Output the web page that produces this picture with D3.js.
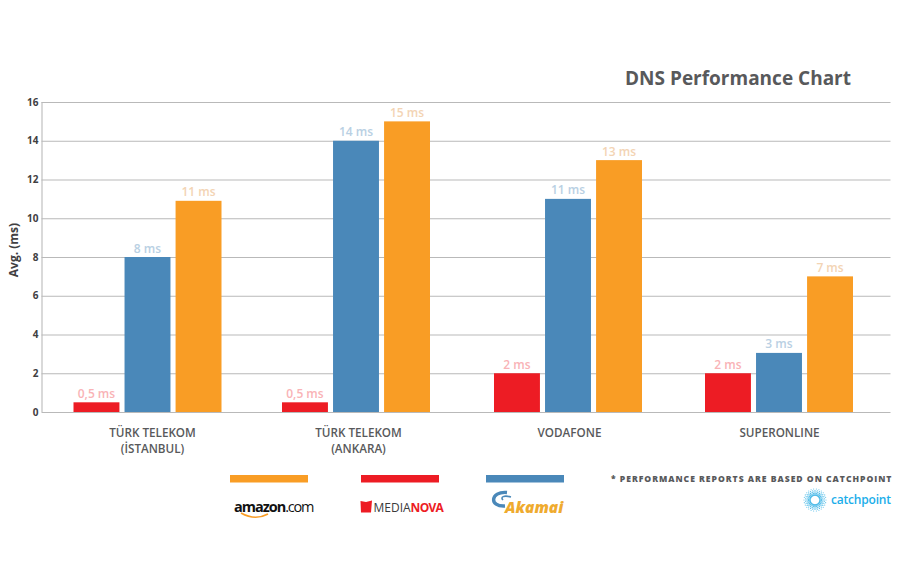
<!DOCTYPE html>
<html>
<head>
<meta charset="utf-8">
<script src="https://cdn.jsdelivr.net/npm/d3@7"></script>
<style>
  html, body { margin: 0; padding: 0; background: #fff; }
  svg { display: block; }
  text { font-family: "Open Sans", sans-serif; }
</style>
</head>
<body>
<div id="chart"></div>
<script>
const categories = ["TÜRK TELEKOM|(İSTANBUL)", "TÜRK TELEKOM|(ANKARA)", "VODAFONE", "SUPERONLINE"];
const seriesNames = ["Medianova", "Akamai", "Amazon"];
const medianova = [0.5, 0.5, 2, 2];
const akamai = [8, 14, 11, 3.05];
const amazon = [10.9, 15, 13, 7];
const barLabels = [
  ["0,5 ms", "0,5 ms", "2 ms", "2 ms"],
  ["8 ms", "14 ms", "11 ms", "3 ms"],
  ["11 ms", "15 ms", "13 ms", "7 ms"]
];
const yTicks = [0, 2, 4, 6, 8, 10, 12, 14, 16];
const legendOrder = ["Amazon", "Medianova", "Akamai"];

const colors = { Medianova: "#ed1c24", Akamai: "#4a88b9", Amazon: "#f99d25" };
const labelColors = { Medianova: "#f9b3b6", Akamai: "#b9d0e3", Amazon: "#f3d4b4" };
const values = [medianova, akamai, amazon];

const svg = d3.select("#chart").append("svg")
  .attr("width", 900)
  .attr("height", 577);

const y = d3.scaleLinear().domain([0, 16]).range([412, 102]);
// groups are not quite evenly spaced in the original
const x0 = d3.scaleOrdinal().domain(categories).range([147.5, 356, 568, 779]);
const xLabel = d3.scaleOrdinal().domain(categories).range([152.5, 358.5, 569.5, 779.5]);
const x1 = d3.scaleBand().domain(seriesNames).range([-74, 74]).paddingInner(0.1);
const legendX = d3.scaleOrdinal().domain(legendOrder).range([230, 361, 486]);

// title
svg.append("text")
  .attr("x", 851).attr("y", 85)
  .attr("text-anchor", "end")
  .attr("font-size", 19).attr("font-weight", 700)
  .attr("fill", "#58595b")
  .text("DNS Performance Chart");

// grid + y axis
const yAxis = svg.append("g")
  .attr("transform", "translate(41.5,0)")
  .call(d3.axisLeft(y).tickValues(yTicks).tickSize(-849).tickPadding(3));
yAxis.select(".domain").attr("stroke", "#b3b3b3").attr("d", "M0.5,102V412");
yAxis.selectAll("line").attr("stroke", "#b9b9b9");
yAxis.selectAll("text")
  .attr("font-size", 10).attr("font-weight", 700)
  .attr("fill", "#414042")
  .style("font-family", '"Open Sans", sans-serif');

svg.append("text")
  .attr("transform", "translate(18,250) rotate(-90)")
  .attr("text-anchor", "middle")
  .attr("font-size", 12).attr("font-weight", 700)
  .attr("fill", "#414042")
  .text("Avg. (ms)");

// bars
seriesNames.forEach((name, s) => {
  const g = svg.append("g");
  g.selectAll("rect")
    .data(values[s])
    .enter()
    .append("rect")
    .attr("x", (d, i) => x0(categories[i]) + x1(name))
    .attr("y", d => y(d))
    .attr("width", x1.bandwidth())
    .attr("height", d => y(0) - y(d))
    .attr("fill", colors[name]);
  g.selectAll("text")
    .data(values[s])
    .enter()
    .append("text")
    .attr("x", (d, i) => x0(categories[i]) + x1(name) + x1.bandwidth() / 2)
    .attr("y", d => y(d) - 4.5)
    .attr("text-anchor", "middle")
    .attr("font-size", 12).attr("font-weight", 600)
    .attr("fill", labelColors[name])
    .text((d, i) => barLabels[s][i]);
});

// category labels
const catLabels = svg.append("g").selectAll("text")
  .data(categories)
  .enter()
  .append("text")
  .attr("text-anchor", "middle")
  .attr("font-size", 11.7).attr("font-weight", 600)
  .attr("fill", "#58595b");
catLabels.each(function(d) {
  d.split("|").forEach((line, i) => {
    d3.select(this).append("tspan")
      .attr("x", xLabel(d))
      .attr("y", 437 + i * 16)
      .text(line);
  });
});

// legend bars
svg.append("g").selectAll("rect")
  .data(legendOrder)
  .enter()
  .append("rect")
  .attr("x", d => legendX(d))
  .attr("y", 475)
  .attr("width", 78)
  .attr("height", 7.5)
  .attr("fill", d => colors[d]);

// amazon logo
const amz = svg.append("text")
  .attr("x", 234).attr("y", 512)
  .attr("font-size", 14.5)
  .attr("letter-spacing", -1)
  .attr("fill", "#111");
amz.append("tspan").attr("font-weight", 700).text("amazon");
amz.append("tspan").attr("font-weight", 400).attr("letter-spacing", -1.3).text(".com");
svg.append("path")
  .attr("d", "M241,513 Q255,521 268,514")
  .attr("fill", "none").attr("stroke", "#f99d25").attr("stroke-width", 1.6);

// medianova logo
svg.append("path")
  .attr("d", "M360.5,501 L366,502 L372,500.5 L371,512.5 L361,512.5 Z")
  .attr("fill", "#ed1c24");
const mn = svg.append("text")
  .attr("x", 373.5).attr("y", 511.5)
  .attr("font-size", 12);
mn.append("tspan").attr("fill", "#3a3a3c").attr("font-weight", 400).attr("letter-spacing", 0).text("MEDIA");
mn.append("tspan").attr("fill", "#ed1c24").attr("font-weight", 700).attr("letter-spacing", -0.7).text("NOVA");

// akamai logo
svg.append("path")
  .attr("d", "M505,506 C489,507 490,491 507,492.5")
  .attr("fill", "none").attr("stroke", "#4a88b9").attr("stroke-width", 3.4);
svg.append("path")
  .attr("d", "M503,500 C500,497 504,495 511,497")
  .attr("fill", "none").attr("stroke", "#4a88b9").attr("stroke-width", 1.6);
svg.append("text")
  .attr("x", 505).attr("y", 513)
  .attr("font-size", 15.5).attr("font-weight", 800).attr("font-style", "italic")
  .attr("fill", "#efab2f")
  .text("Akamai");

// footnote
svg.append("text")
  .attr("x", 611).attr("y", 481.5)
  .attr("font-size", 8.6).attr("font-weight", 800)
  .attr("letter-spacing", 0.98)
  .attr("fill", "#58595b")
  .text("* PERFORMANCE REPORTS ARE BASED ON CATCHPOINT");

// catchpoint logo
const burst = svg.append("g").attr("transform", "translate(815,500)");
[5, 6.5, 8, 9.5, 11].forEach((r, k) => {
  d3.range(0, 26).forEach(i => {
    const a = (i + k / 2) / 26 * 2 * Math.PI;
    burst.append("circle")
      .attr("cx", r * Math.cos(a))
      .attr("cy", r * Math.sin(a))
      .attr("r", 0.85 - k * 0.08)
      .attr("fill", "#4dbbe8");
  });
});
svg.append("text")
  .attr("x", 831).attr("y", 504)
  .attr("font-size", 12).attr("font-weight", 600)
  .attr("fill", "#1aaeea")
  .attr("letter-spacing", -0.2)
  .text("catchpoint");
</script>
</body>
</html>
